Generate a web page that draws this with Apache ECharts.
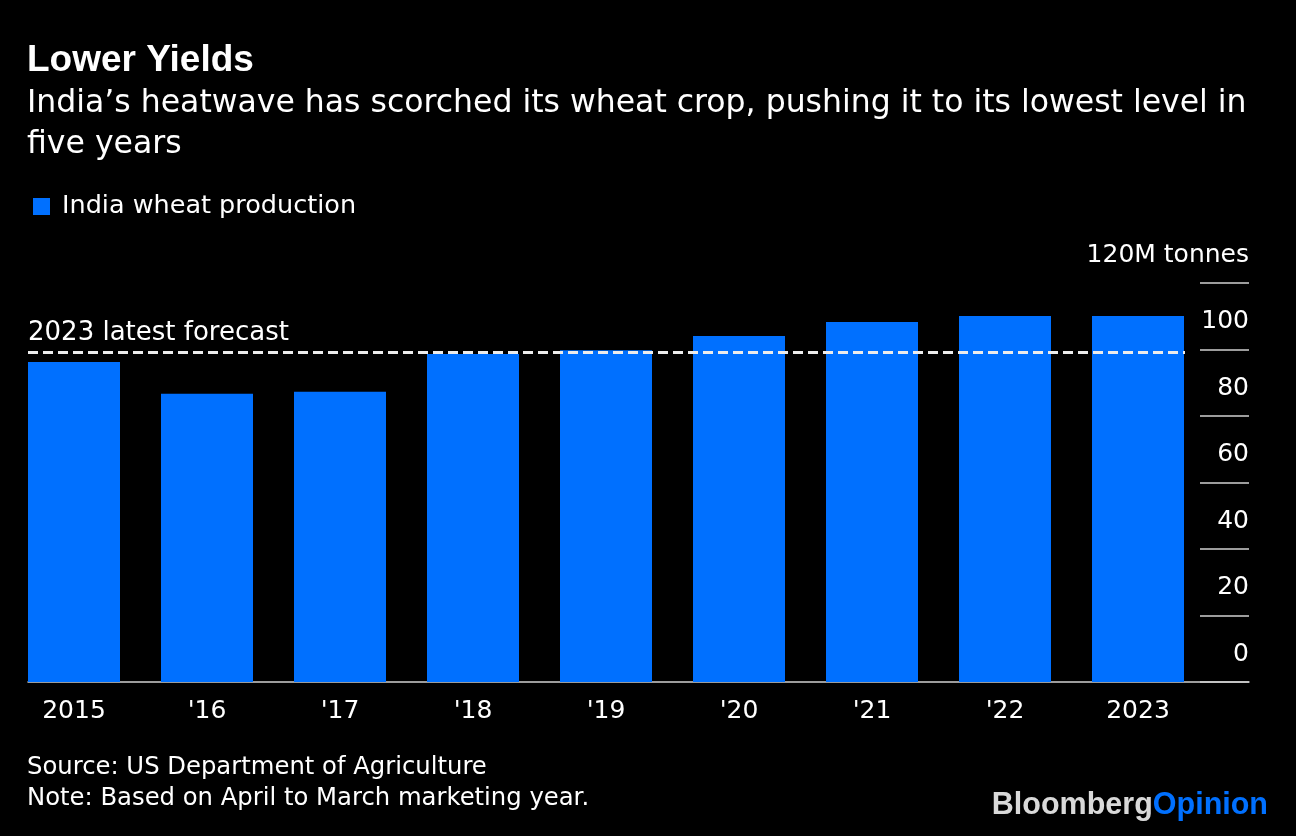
<!DOCTYPE html>
<html>
<head>
<meta charset="utf-8">
<script src="https://cdn.jsdelivr.net/npm/echarts@6/dist/echarts.min.js"></script>
<style>
  html, body { margin: 0; padding: 0; background: #000; }
  #chart { width: 1296px; height: 836px; }
</style>
</head>
<body>
<div id="chart"></div>
<script>
// ---- Data ----
const categories = ['2015', "'16", "'17", "'18", "'19", "'20", "'21", "'22", '2023'];
const production = [96.2, 86.6, 87.2, 98.6, 99.7, 104.0, 108.2, 110.0, 110.0];
const forecast2023 = 99.2;
const yMin = 0, yMax = 120, yStep = 20;
const seriesName = 'India wheat production';
const titleText = 'Lower Yields';
const subtitleText = 'India\u2019s heatwave has scorched its wheat crop, pushing it to its lowest level in\nfive years';
const forecastLabel = '2023 latest forecast';
const unitLabel = '120M tonnes';
const sourceText = 'Source: US Department of Agriculture';
const noteText = 'Note: Based on April to March marketing year.';

// ---- Styles ----
const BLUE = '#0070ff';
const GREY = '#d0d0d0';
const REG = '"DejaVu Sans", sans-serif';
const BOLD = '"Liberation Sans", Arial, sans-serif';
const gTop = 282.7, gBottom = 154;

const chart = echarts.init(document.getElementById('chart'), null, { renderer: 'canvas' });

const option = {
  backgroundColor: '#000',
  animation: false,
  legend: {
    left: 33, top: 193.5, padding: 0,
    icon: 'rect', itemWidth: 17, itemHeight: 17,
    data: [seriesName],
    textStyle: { color: '#fff', fontSize: 25.5, fontFamily: REG, lineHeight: 26, padding: [0, 0, 0, 7] },
    selectedMode: false
  },
  grid: [
    { left: 7.5, right: 91.5, top: gTop, bottom: gBottom, outerBoundsMode: 'none' },   // bars
    { left: 28, right: 47, top: gTop, bottom: gBottom, outerBoundsMode: 'none' },      // axis + baseline
    { left: 28, right: 111, top: gTop, bottom: gBottom, outerBoundsMode: 'none' }      // forecast line
  ],
  xAxis: [
    {
      gridIndex: 0, type: 'category', data: categories,
      axisLine: { show: false }, axisTick: { show: false },
      axisLabel: { color: '#fff', fontSize: 25, fontFamily: REG, margin: 17, lineHeight: 25 }
    },
    {
      gridIndex: 1, type: 'value', min: 0, max: 1,
      axisLine: { show: true, onZero: false, lineStyle: { color: GREY, width: 1.5 } },
      axisTick: { show: false }, axisLabel: { show: false }, splitLine: { show: false }
    },
    {
      gridIndex: 2, type: 'value', min: 0, max: 1, show: false
    }
  ],
  yAxis: [
    { gridIndex: 0, type: 'value', min: yMin, max: yMax, show: false },
    {
      gridIndex: 1, type: 'value', min: yMin, max: yMax, interval: yStep, position: 'right',
      axisLine: { show: false, onZero: false },
      axisTick: { show: true, inside: true, length: 49, lineStyle: { color: GREY, width: 1.5 } },
      splitLine: { show: false },
      axisLabel: {
        inside: true, margin: 0, align: 'right', verticalAlign: 'bottom',
        color: '#fff', fontSize: 25, fontFamily: REG, lineHeight: 55,
        formatter: v => (v === yMax ? unitLabel : String(v))
      }
    },
    { gridIndex: 2, type: 'value', min: yMin, max: yMax, show: false }
  ],
  series: [
    {
      name: seriesName, type: 'bar', xAxisIndex: 0, yAxisIndex: 0,
      data: production, barWidth: 92, itemStyle: { color: BLUE }
    },
    {
      name: 'forecast', type: 'line', xAxisIndex: 2, yAxisIndex: 2, data: [],
      markLine: {
        silent: true, symbol: ['none', 'none'],
        lineStyle: { color: '#ececec', width: 3, type: [10, 5] },
        label: {
          show: true, position: 'insideStartTop', distance: [0, 6],
          formatter: forecastLabel, color: '#fff', fontSize: 26, fontFamily: REG, lineHeight: 26
        },
        data: [{ yAxis: forecast2023 }]
      }
    }
  ],
  graphic: [
    { type: 'text', x: 27, y: 61, style: { text: titleText, fill: '#fff', fontSize: 37, fontWeight: 'bold', fontFamily: BOLD, verticalAlign: 'middle', align: 'left' } },
    { type: 'text', x: 27, y: 83, style: { text: subtitleText, fill: '#fff', fontSize: 31.5, fontFamily: REG, lineHeight: 41, verticalAlign: 'top', align: 'left' } },
    { type: 'text', x: 27, y: 767.5, style: { text: sourceText, fill: '#fff', fontSize: 24.3, fontFamily: REG, verticalAlign: 'middle', align: 'left' } },
    { type: 'text', x: 27, y: 799, style: { text: noteText, fill: '#fff', fontSize: 24.3, fontFamily: REG, verticalAlign: 'middle', align: 'left' } },
    { type: 'text', x: 1268, y: 806, style: {
        text: '{a|Bloomberg}{b|Opinion}', align: 'right', verticalAlign: 'middle',
        rich: {
          a: { fill: '#d9d9d9', fontSize: 30.5, fontWeight: 'bold', fontFamily: BOLD },
          b: { fill: BLUE, fontSize: 30.5, fontWeight: 'bold', fontFamily: BOLD }
        }
      } }
  ]
};
chart.setOption(option);
</script>
</body>
</html>
